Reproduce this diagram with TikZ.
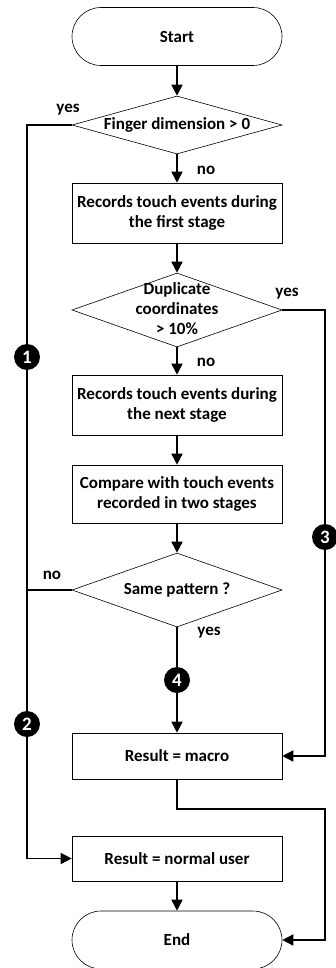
\documentclass[tikz,border=0pt]{standalone}
\usepackage{fontspec}
\setmainfont{Carlito}
\usetikzlibrary{shapes.geometric,arrows.meta}
\begin{document}
\begin{tikzpicture}[x=1pt,y=-1pt,
  every node/.style={font=\fontsize{17}{20}\selectfont\bfseries},
  procbox/.style={draw=black,line width=0.6pt,minimum width=210pt,align=center,inner sep=0pt},
  termbox/.style={draw=black,line width=0.6pt,minimum width=210pt,minimum height=58pt,rounded corners=29pt,inner sep=0pt},
  decbox/.style={draw=black,line width=0.6pt,diamond,minimum width=210pt,inner sep=0pt},
  dectext/.style={align=center,inner sep=0pt},
  conn/.style={line width=1.5pt},
  arr/.style={line width=1.5pt,-{Triangle[length=11pt,width=11pt]}},
  numc/.style={circle,fill=black,inner sep=0pt,minimum size=26pt,text=white,font=\fontsize{19}{20}\selectfont\bfseries},
  lbl/.style={inner sep=0pt}]
\useasboundingbox (0,0) rectangle (336,968);
\node[termbox] (start) at (177,36.5) {Start};
\node[decbox,minimum height=58pt] (d1) at (177,125) {};
\node[dectext] (d1t) at (d1.center) {Finger dimension > 0};
\node[procbox,minimum height=60pt] (b1) at (177,213) {Records touch events during\\the first stage};
\node[decbox,minimum height=74pt] (d2) at (177,310) {};
\node[dectext] (d2t) at (177,309) {Duplicate\\coordinates\\> 10\%};
\node[procbox,minimum height=60pt] (b2) at (177,405) {Records touch events during\\the next stage};
\node[procbox,minimum height=58pt] (b3) at (177,494) {Compare with touch events\\recorded in two stages};
\node[decbox,minimum height=74pt] (d3) at (177,590) {};
\node[dectext] (d3t) at (d3.center) {Same pattern ?};
\node[procbox,minimum height=46pt] (b4) at (177,756) {Result = macro};
\node[procbox,minimum height=45pt] (b5) at (177,858.5) {Result = normal user};
\node[termbox] (end) at (177,940) {End};
\coordinate (L1) at (27,125);
\coordinate (L2) at (27,858.5);
\coordinate (L3) at (27,590);
\coordinate (R1) at (325,310);
\coordinate (R2) at (325,756);
\coordinate (M1) at (177,809);
\coordinate (M2) at (325,809);
\coordinate (M3) at (325,940);
\draw[arr] (start) -- (d1);
\draw[arr] (d1) -- (b1);
\draw[arr] (b1) -- (d2);
\draw[arr] (d2) -- (b2);
\draw[arr] (b2) -- (b3);
\draw[arr] (b3) -- (d3);
\draw[arr] (d3) -- (b4);
\draw[arr] (b5) -- (end);
\draw[arr] (d1.west) -- (L1) -- (L2) -- (b5.west);
\draw[conn] (d3.west) -- (L3);
\draw[arr] (d2.east) -- (R1) -- (R2) -- (b4.east);
\draw[arr] (b4.south) -- (M1) -- (M2) -- (M3) -- (end.east);
\node[numc] (n1) at (27,357) {1};
\node[numc] (n2) at (27,724) {2};
\node[numc] (n3) at (325,537) {3};
\node[numc] (n4) at (177,680) {4};
\node[lbl] (y1) at (68,110) {yes};
\node[lbl] (o1) at (206,170) {no};
\node[lbl] (y2) at (287,294) {yes};
\node[lbl] (o2) at (206,362) {no};
\node[lbl] (o3) at (52,575) {no};
\node[lbl] (y3) at (209,633) {yes};
\end{tikzpicture}
\end{document}
